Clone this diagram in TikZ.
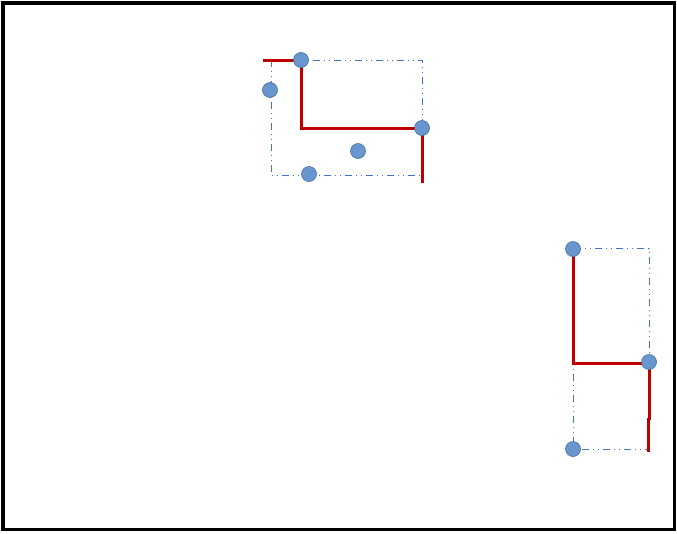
\documentclass[tikz,border=0pt]{standalone}
\usepackage{tikz}

\definecolor{pathred}{RGB}{192,0,0}
\definecolor{boxblue}{RGB}{68,114,196}
\definecolor{dotfill}{RGB}{106,150,208}
\definecolor{dotedge}{RGB}{65,113,156}

\tikzset{
  guide/.style={boxblue, line width=1pt, dash pattern=on 7pt off 4pt on 1pt off 4pt on 1pt off 4pt},
  route/.style={pathred, line width=3pt},
  pin/.style={circle, fill=dotfill, draw=dotedge, line width=0.6pt, minimum size=15pt, inner sep=0pt},
}

\begin{document}
\begin{tikzpicture}[x=1pt,y=-1pt]
\useasboundingbox (0,0) rectangle (677,533);
\draw [line width=3.5pt] (3,3) rectangle (674.5,529.5);
%
% upper group
\draw [guide] (271,60) rectangle (422,175);
\coordinate (ua) at (263,60);
\coordinate (ub) at (301,128);
\coordinate (uc) at (422,183);
\draw [route] (ua) -- (301,60) -- (ub) -- (422,128) -- (uc);
\node [pin] (p1) at (301,60) {};
\node [pin] (p2) at (270,90) {};
\node [pin] (p3) at (422,128) {};
\node [pin] (p4) at (358,151) {};
\node [pin] (p5) at (309,174) {};
%
% lower group
\draw [guide] (573,248) rectangle (649,449);
\coordinate (la) at (573,363);
\coordinate (lb) at (649,420);
\coordinate (lc) at (648,418);
\coordinate (ld) at (648,452);
\draw [route] (573,249) -- (la) -- (649,363) -- (lb);
\draw [route] (lc) -- (ld);
\node [pin] (q1) at (573,249) {};
\node [pin] (q2) at (649,362) {};
\node [pin] (q3) at (573,449) {};
\end{tikzpicture}
\end{document}
